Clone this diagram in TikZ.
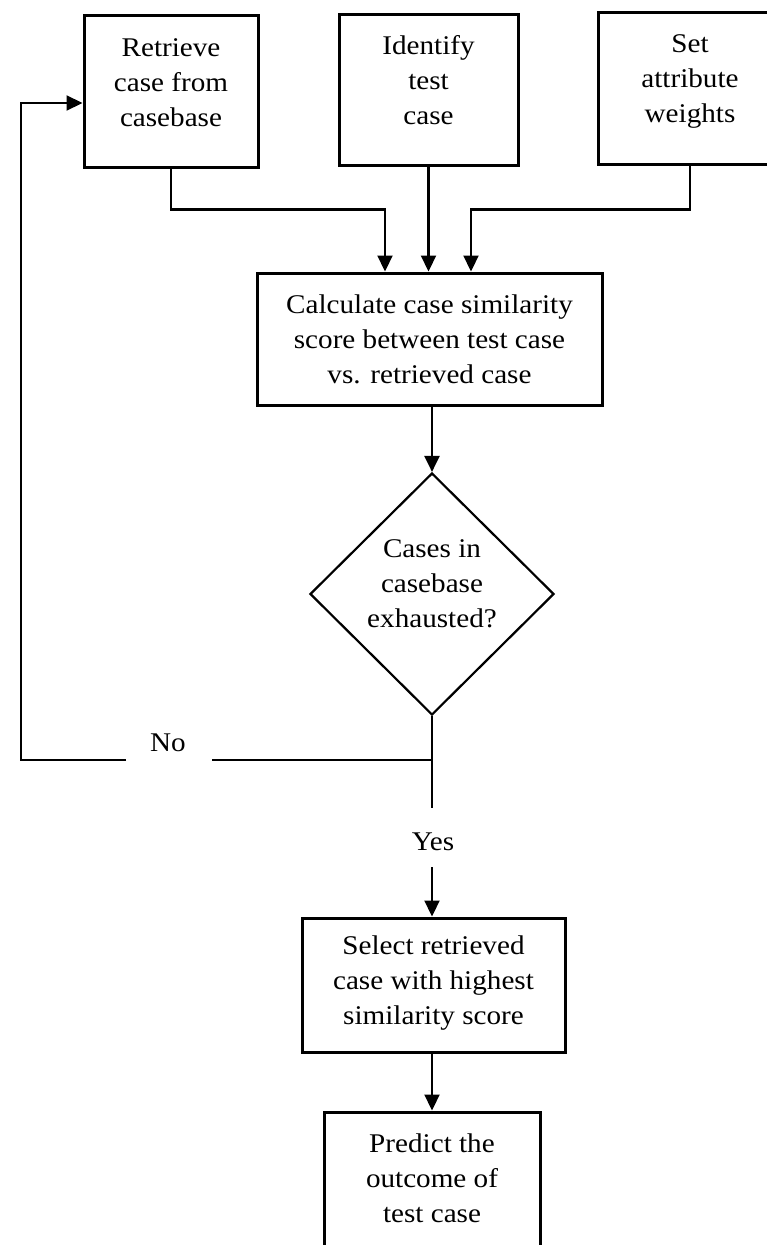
\documentclass[tikz,border=0pt]{standalone}
\usepackage{fontspec}
\setmainfont{Liberation Serif}[FakeStretch=1.08]
\usetikzlibrary{arrows.meta,shapes.geometric}
\begin{document}
\begin{tikzpicture}[x=1pt,y=-1pt,
  box/.style={draw,line width=3pt,inner sep=0pt},
  txt/.style={align=center,inner sep=0pt,font=\fontsize{27}{35}\selectfont},
  lbl/.style={inner sep=0pt,font=\fontsize{27}{35}\selectfont},
  conn/.style={line width=2.2pt},
  arr/.style={conn,-{Triangle[length=16pt,width=15pt]}},
  decision/.style={draw,diamond,aspect=1,line width=2.2pt,inner sep=0pt,
    minimum width=244pt,minimum height=242pt}
]
\useasboundingbox (0,0) rectangle (766,1245);
\fill[white] (0,0) rectangle (766,1245);

% boxes
\node[box,minimum width=174pt,minimum height=152pt] (b1) at (171,91) {};
\node[txt] (t1) at (171,83) {Retrieve\\case from\\casebase};
\node[box,minimum width=179pt,minimum height=151pt] (b2) at (428.5,89.5) {};
\node[txt] (t2) at (428.5,80) {Identify\\test\\case};
\node[box,minimum width=184pt,minimum height=152pt] (b3) at (690,88) {};
\node[txt] (t3) at (690,81) {Set\\attribute\\weights};

\node[box,minimum width=345pt,minimum height=132pt] (calc) at (429.5,339) {};
\node[txt] (tc) at (429.5,339) {Calculate case similarity\\score between test case\\vs. retrieved case};

\node[decision] (d) at (432,594) {};
\node[txt] (td) at (432,584) {Cases in\\casebase\\exhausted?};

\node[box,minimum width=263pt,minimum height=134pt] (sel) at (433.5,985) {};
\node[txt] (ts) at (433.5,983) {Select retrieved\\case with highest\\similarity score};

\node[box,minimum width=216pt,minimum height=163pt] (pred) at (432,1193.5) {};
\node[txt] (tp) at (432,1178) {Predict the\\outcome of\\test case};

% labels
\node[lbl] (no) at (168,743) {No};
\node[lbl] (yes) at (433,842) {Yes};

% coordinates
\coordinate (j) at (432,760);
\coordinate (yesend) at (432,808);
\coordinate (gapR) at (212,760);
\coordinate (gapL) at (126,760);
\coordinate (loopc) at (21,760);
\coordinate (yesarr) at (432,867);

% connectors
\draw[arr] (b1.south) -- ++(0,41) -| ([xshift=-44.5pt]calc.north);
\draw[arr] (b2.south) -- (b2.south |- calc.north);
\draw[arr] (b3.south) -- ++(0,44) -| ([xshift=41.5pt]calc.north);
\draw[arr] (d.north |- calc.south) -- (d.north);
\draw[conn] (d.south) -- (yesend);
\draw[conn] (j) -- (gapR);
\draw[arr] (gapL) -- (loopc) |- ([yshift=-12pt]b1.west);
\draw[arr] (yesarr) -- (yesarr |- sel.north);
\draw[arr] (pred.north |- sel.south) -- (pred.north);
\end{tikzpicture}
\end{document}
